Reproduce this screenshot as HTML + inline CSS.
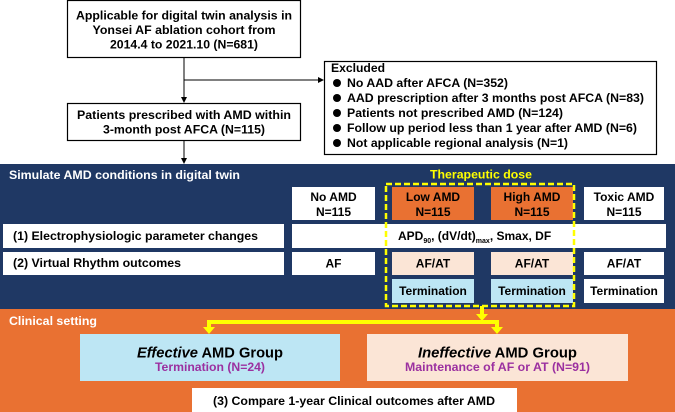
<!DOCTYPE html>
<html><head><meta charset="utf-8"><style>
html,body{margin:0;padding:0;background:#fff;}
svg{display:block;}
text{font-family:"Liberation Sans",Arial,sans-serif;font-weight:bold;}
</style></head><body>
<svg width="675" height="412" viewBox="0 0 675 412" xmlns="http://www.w3.org/2000/svg">
<rect x="0" y="0" width="675" height="412" fill="#fff"/>
<!-- top box -->
<rect x="67.5" y="0.5" width="233" height="57" fill="#fff" stroke="#000" stroke-width="1.2"/>
<text x="184" y="19.5" font-size="12" text-anchor="middle" textLength="216" lengthAdjust="spacingAndGlyphs">Applicable for digital twin analysis in</text>
<text x="184" y="34" font-size="12" text-anchor="middle" textLength="183" lengthAdjust="spacingAndGlyphs">Yonsei AF ablation cohort from</text>
<text x="184" y="48.5" font-size="12" text-anchor="middle" textLength="148" lengthAdjust="spacingAndGlyphs">2014.4 to 2021.10 (N=681)</text>
<!-- connectors -->
<line x1="184" y1="57" x2="184" y2="102" stroke="#000" stroke-width="1"/>
<path d="M181,97 L184,103 L187,97 z" fill="#000"/>
<line x1="184" y1="80" x2="322" y2="80" stroke="#000" stroke-width="1"/>
<path d="M318,77 L324,80 L318,83 z" fill="#000"/>
<line x1="184" y1="141" x2="184" y2="163" stroke="#000" stroke-width="1"/>
<path d="M181,158 L184,164 L187,158 z" fill="#000"/>
<!-- excluded -->
<rect x="324.5" y="61.5" width="332" height="93" fill="#fff" stroke="#000" stroke-width="1.2"/>
<text x="331" y="72" font-size="12" textLength="54" lengthAdjust="spacingAndGlyphs">Excluded</text>
<g font-size="12">
<circle cx="337" cy="83" r="4"/><text x="347" y="87" textLength="161" lengthAdjust="spacingAndGlyphs">No AAD after AFCA (N=352)</text>
<circle cx="337" cy="98" r="4"/><text x="347" y="102" textLength="297" lengthAdjust="spacingAndGlyphs">AAD prescription after 3 months post AFCA (N=83)</text>
<circle cx="337" cy="113" r="4"/><text x="347" y="117" textLength="216" lengthAdjust="spacingAndGlyphs">Patients not prescribed AMD (N=124)</text>
<circle cx="337" cy="128" r="4"/><text x="347" y="132" textLength="290" lengthAdjust="spacingAndGlyphs">Follow up period less than 1 year after AMD (N=6)</text>
<circle cx="337" cy="143" r="4"/><text x="347" y="147" textLength="221" lengthAdjust="spacingAndGlyphs">Not applicable regional analysis (N=1)</text>
</g>
<!-- box2 -->
<rect x="67.5" y="103.5" width="233" height="37" fill="#fff" stroke="#000" stroke-width="1.2"/>
<text x="184" y="119" font-size="12" text-anchor="middle" textLength="214" lengthAdjust="spacingAndGlyphs">Patients prescribed with AMD within</text>
<text x="184" y="133.5" font-size="12" text-anchor="middle" textLength="162" lengthAdjust="spacingAndGlyphs">3-month post AFCA (N=115)</text>
<!-- blue panel -->
<rect x="0" y="164" width="675" height="145" fill="#1F3864"/>
<text x="9" y="179" font-size="12" fill="#fff" textLength="231" lengthAdjust="spacingAndGlyphs">Simulate AMD conditions in digital twin</text>
<text x="481" y="178.5" font-size="12" fill="#FFFF00" text-anchor="middle" textLength="102" lengthAdjust="spacingAndGlyphs">Therapeutic dose</text>
<!-- header boxes -->
<rect x="292" y="187" width="83" height="33" fill="#fff"/>
<rect x="392" y="187" width="82" height="33" fill="#E97132"/>
<rect x="491" y="187" width="82" height="33" fill="#E97132"/>
<rect x="584" y="187" width="80" height="33" fill="#fff"/>
<g font-size="12" text-anchor="middle">
<text x="333.5" y="201">No AMD</text><text x="333.5" y="216">N=115</text>
<text x="433" y="201">Low AMD</text><text x="433" y="216">N=115</text>
<text x="532" y="201">High AMD</text><text x="532" y="216">N=115</text>
<text x="624" y="201">Toxic AMD</text><text x="624" y="216">N=115</text>
</g>
<!-- row1 -->
<rect x="3" y="224" width="281" height="24" fill="#fff"/>
<rect x="292" y="224" width="374" height="24" fill="#fff"/>
<text x="13" y="240" font-size="12" textLength="245" lengthAdjust="spacingAndGlyphs">(1) Electrophysiologic parameter changes</text>
<text x="398" y="240" font-size="12">APD<tspan font-size="7" dy="3">90</tspan><tspan dy="-3">, (dV/dt)</tspan><tspan font-size="7" dy="3">max</tspan><tspan dy="-3">, Smax, DF</tspan></text>
<!-- row2 -->
<rect x="3" y="252" width="281" height="23" fill="#fff"/>
<text x="13" y="267" font-size="12" textLength="168" lengthAdjust="spacingAndGlyphs">(2) Virtual Rhythm outcomes</text>
<rect x="292" y="252" width="83" height="23" fill="#fff"/>
<rect x="392" y="252" width="82" height="23" fill="#FBE5D6"/>
<rect x="491" y="252" width="82" height="23" fill="#FBE5D6"/>
<rect x="584" y="252" width="80" height="23" fill="#fff"/>
<g font-size="12" text-anchor="middle">
<text x="333.5" y="267.5">AF</text>
<text x="433" y="267.5">AF/AT</text>
<text x="532" y="267.5">AF/AT</text>
<text x="624" y="267.5">AF/AT</text>
</g>
<!-- row3 -->
<rect x="392" y="279" width="82" height="24" fill="#BDE6F4"/>
<rect x="491" y="279" width="82" height="24" fill="#BDE6F4"/>
<rect x="584" y="279" width="80" height="24" fill="#fff"/>
<g font-size="12" text-anchor="middle">
<text x="433" y="295">Termination</text>
<text x="532" y="295">Termination</text>
<text x="624" y="295">Termination</text>
</g>
<!-- yellow dashed -->
<rect x="386" y="184" width="188" height="122" fill="none" stroke="#FFFF00" stroke-width="2.5" stroke-dasharray="6,3"/>
<!-- orange panel -->
<rect x="0" y="309" width="675" height="103" fill="#E97132"/>
<text x="9" y="325" font-size="12" fill="#fff" textLength="88" lengthAdjust="spacingAndGlyphs">Clinical setting</text>
<!-- yellow arrows -->
<g fill="#FFFF00">
<rect x="480" y="306" width="4" height="9"/>
<path d="M476,314 L488,314 L482,321 z"/>
<rect x="207" y="320" width="292" height="4"/>
<rect x="207" y="320" width="4" height="8"/>
<path d="M203,327 L215,327 L209,334 z"/>
<rect x="495" y="320" width="4" height="8"/>
<path d="M491,327 L503,327 L497,334 z"/>
</g>
<!-- result boxes -->
<rect x="80" y="334" width="260" height="47" fill="#BDE6F4"/>
<rect x="367" y="334" width="261" height="47" fill="#FBE5D6"/>
<text x="210" y="357.5" font-size="15" text-anchor="middle" textLength="146" lengthAdjust="spacingAndGlyphs"><tspan font-style="italic">Effective</tspan> AMD Group</text>
<text x="210" y="371" font-size="12" fill="#9B30A0" text-anchor="middle" textLength="110" lengthAdjust="spacingAndGlyphs">Termination (N=24)</text>
<text x="497.5" y="357.5" font-size="15" text-anchor="middle" textLength="159" lengthAdjust="spacingAndGlyphs"><tspan font-style="italic">Ineffective</tspan> AMD Group</text>
<text x="497.5" y="371" font-size="12" fill="#9B30A0" text-anchor="middle" textLength="185" lengthAdjust="spacingAndGlyphs">Maintenance of AF or AT (N=91)</text>
<rect x="192" y="388" width="325" height="24" fill="#fff"/>
<text x="354" y="405" font-size="12" text-anchor="middle" textLength="282" lengthAdjust="spacingAndGlyphs">(3) Compare 1-year Clinical outcomes after AMD</text>
</svg>
</body></html>
